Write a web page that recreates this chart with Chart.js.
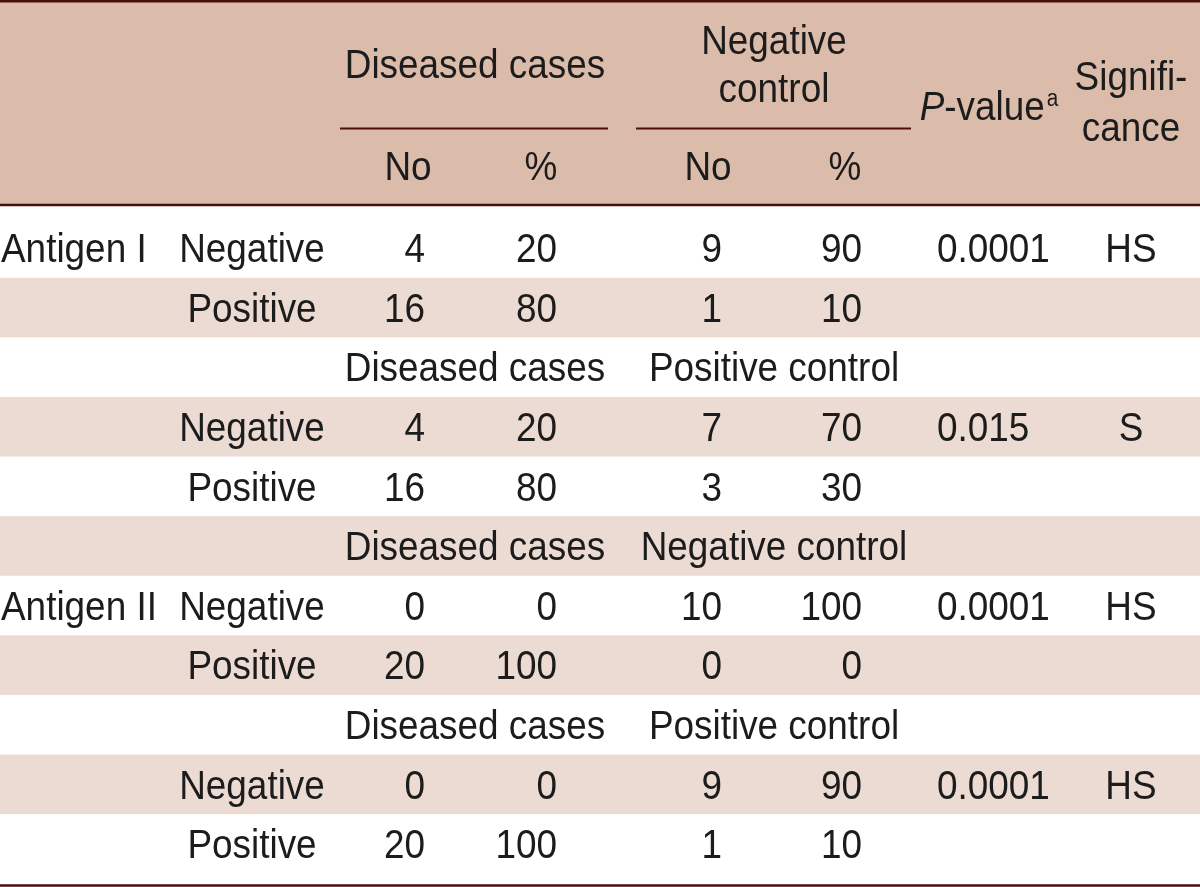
<!DOCTYPE html>
<html>
<head>
<meta charset="utf-8">
<script src="https://cdn.jsdelivr.net/npm/chart.js@4.4.1/dist/chart.umd.min.js"></script>
<style>
  body { margin: 0; background: #fff; }
  #wrap { width: 1200px; height: 887px; }
</style>
</head>
<body>
<div id="wrap"><canvas id="table"></canvas></div>
<script>
// table values
const antigens = ['Antigen I', 'Antigen II']
const results = ['Negative', 'Positive']
const groupA = 'Diseased cases'
const controls = ['Negative control', 'Positive control', 'Negative control', 'Positive control']
const diseasedNo = [4, 16, 4, 16, 0, 20, 0, 20]
const diseasedPct = [20, 80, 20, 80, 0, 100, 0, 100]
const controlNo = [9, 1, 7, 3, 10, 0, 9, 1]
const controlPct = [90, 10, 70, 30, 100, 0, 90, 10]
const pValues = ['0.0001', '0.015', '0.0001', '0.0001']
const significance = ['HS', 'S', 'HS', 'HS']

// layout: x in canvas units, y in row units (row 0 = first body row)
const colX = { group: 1, result: 252, no1: 425, pct1: 557, no2: 722, pct2: 862, p: 937, sig: 1131,
  spanA: 475, spanB: 774, noHead1: 408, pctHead1: 541, noHead2: 708, pctHead2: 845, pHead: 989 }
const headY = { top: -4.14, span1: -3.10, ctl1: -3.49, ctl2: -2.685, rule: -2.005, sub: -1.376,
  p: -2.39, sig1: -2.886, sig2: -2.03, bottom: -0.7215 }
const tableEnd = 10.696
const yMin = -4.161, yMax = 10.722

const ink = '#1c1c1c'
const ruleColor = '#4f0c0c'
const headBg = '#dbbcab'
const bandBg = '#ecdbd2'
const fontSize = 41
const squeeze = 0.9
const nudge = 3

const cells = []
function cell(x, y, text, align) {
  cells.push({ x: x, y: y, text: String(text), align: align || 'center' })
}

// header
cell(colX.spanA, headY.span1, groupA)
cell(colX.spanB, headY.ctl1, controls[0].split(' ')[0])
cell(colX.spanB, headY.ctl2, controls[0].split(' ')[1])
cell(colX.noHead1, headY.sub, 'No')
cell(colX.pctHead1, headY.sub, '%')
cell(colX.noHead2, headY.sub, 'No')
cell(colX.pctHead2, headY.sub, '%')
cell(colX.pHead, headY.p, 'P-value', 'pvalue')
cell(colX.sig, headY.sig1, 'Signifi-')
cell(colX.sig, headY.sig2, 'cance')

// body
for (let b = 0; b < 4; b++) {
  if (b > 0) {
    cell(colX.spanA, 3 * b - 1, groupA)
    cell(colX.spanB, 3 * b - 1, controls[b])
  }
  for (let r = 0; r < 2; r++) {
    const row = 3 * b + r
    const i = 2 * b + r
    if (r === 0 && b % 2 === 0) cell(colX.group, row, antigens[b / 2], 'left')
    cell(colX.result, row, results[r])
    cell(colX.no1, row, diseasedNo[i], 'right')
    cell(colX.pct1, row, diseasedPct[i], 'right')
    cell(colX.no2, row, controlNo[i], 'right')
    cell(colX.pct2, row, controlPct[i], 'right')
    if (r === 0) {
      cell(colX.p, row, pValues[b], 'left')
      cell(colX.sig, row, significance[b])
    }
  }
}

function squeezedText(ctx, text, x, y, align, font) {
  ctx.save()
  ctx.font = font
  ctx.textAlign = align
  ctx.textBaseline = 'middle'
  ctx.translate(x, y + nudge)
  ctx.scale(squeeze, 1)
  ctx.fillText(text, 0, 0)
  ctx.restore()
}

const tablePlugin = {
  id: 'tableGrid',
  beforeDatasetsDraw(chart) {
    const ctx = chart.ctx
    const xs = chart.scales.x, ys = chart.scales.y
    const left = xs.getPixelForValue(0), right = xs.getPixelForValue(1200)
    ctx.save()
    ctx.fillStyle = headBg
    ctx.fillRect(left, ys.getPixelForValue(headY.top), right - left,
      ys.getPixelForValue(headY.bottom) - ys.getPixelForValue(headY.top))
    ctx.fillStyle = bandBg
    for (let row = 1; row < 11; row += 2) {
      const t = ys.getPixelForValue(row - 0.5), btm = ys.getPixelForValue(row + 0.5)
      ctx.fillRect(left, t, right - left, btm - t)
    }
    ctx.strokeStyle = ruleColor
    ctx.lineWidth = 2.6
    ;[headY.top, headY.bottom, tableEnd].forEach(v => {
      const y = ys.getPixelForValue(v)
      ctx.beginPath(); ctx.moveTo(left, y); ctx.lineTo(right, y); ctx.stroke()
    })
    ctx.lineWidth = 2.2
    ;[[340, 608], [636, 911]].forEach(s => {
      const y = ys.getPixelForValue(headY.rule)
      ctx.beginPath(); ctx.moveTo(xs.getPixelForValue(s[0]), y); ctx.lineTo(xs.getPixelForValue(s[1]), y); ctx.stroke()
    })
    ctx.restore()
  },
  afterDatasetsDraw(chart) {
    const ctx = chart.ctx
    const meta = chart.getDatasetMeta(0)
    const font = fontSize + 'px "Liberation Sans", Arial, sans-serif'
    ctx.save()
    ctx.fillStyle = ink
    meta.data.forEach((pt, i) => {
      const c = cells[i]
      if (c.align === 'pvalue') {
        const italic = 'italic ' + font
        const supFont = '23px "Liberation Sans", Arial, sans-serif'
        ctx.font = italic
        const w1 = ctx.measureText('P').width * squeeze
        ctx.font = font
        const w2 = ctx.measureText('-value').width * squeeze
        ctx.font = supFont
        const w3 = ctx.measureText('a').width * squeeze
        let x = pt.x - (w1 + w2 + w3 + 2) / 2
        squeezedText(ctx, 'P', x, pt.y, 'left', italic)
        x += w1
        squeezedText(ctx, '-value', x, pt.y, 'left', font)
        x += w2 + 2
        squeezedText(ctx, 'a', x, pt.y - 9, 'left', supFont)
      } else {
        squeezedText(ctx, c.text, pt.x, pt.y, c.align, font)
      }
    })
    ctx.restore()
  }
}

new Chart(document.getElementById('table'), {
  type: 'scatter',
  data: {
    datasets: [{
      data: cells.map(c => ({ x: c.x, y: c.y })),
      pointRadius: 0,
      pointHoverRadius: 0
    }]
  },
  options: {
    responsive: true,
    maintainAspectRatio: false,
    animation: false,
    layout: { padding: 0 },
    events: [],
    plugins: { legend: { display: false }, tooltip: { enabled: false } },
    scales: {
      x: { type: 'linear', min: 0, max: 1200, display: false },
      y: { type: 'linear', min: yMin, max: yMax, reverse: true, display: false, bounds: 'data' }
    }
  },
  plugins: [tablePlugin]
})
</script>
</body>
</html>
